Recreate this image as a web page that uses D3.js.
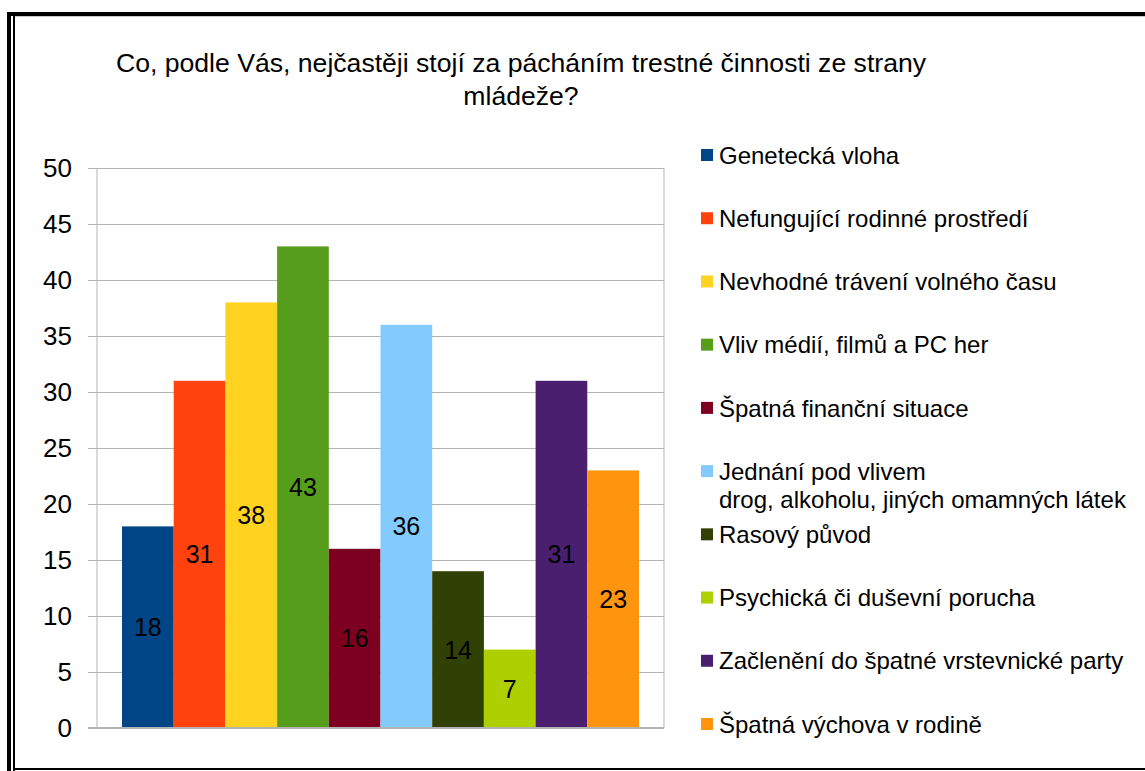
<!DOCTYPE html>
<html>
<head>
<meta charset="utf-8">
<script src="https://cdn.jsdelivr.net/npm/d3@7"></script>
<style>
html,body{margin:0;padding:0;background:#fff;}
svg{display:block;font-family:"Liberation Sans",Arial,sans-serif;}
</style>
</head>
<body>
<svg id="chart" width="1145" height="771"></svg>
<script>
const titleLines = ["Co, podle Vás, nejčastěji stojí za pácháním trestné činnosti ze strany", "mládeže?"];
const categories = [
  "Genetecká vloha",
  "Nefungující rodinné prostředí",
  "Nevhodné trávení volného času",
  "Vliv médií, filmů a PC her",
  "Špatná finanční situace",
  "Jednání pod vlivem\ndrog, alkoholu, jiných omamných látek",
  "Rasový původ",
  "Psychická či duševní porucha",
  "Začlenění do špatné vrstevnické party",
  "Špatná výchova v rodině"
];
const values = [18, 31, 38, 43, 16, 36, 14, 7, 31, 23];
const colors = ["#004586","#ff420e","#ffd320","#579d1c","#7e0021","#83caff","#314004","#aecf00","#4b1f6f","#ff950e"];
const yTicks = [0, 5, 10, 15, 20, 25, 30, 35, 40, 45, 50];

const svg = d3.select("#chart");

// frame
svg.append("rect").attr("x",7).attr("y",12).attr("width",1145).attr("height",4).attr("fill","#000");
svg.append("rect").attr("x",7).attr("y",12).attr("width",4).attr("height",759).attr("fill","#000");
svg.append("rect").attr("x",13).attr("y",16).attr("width",2).attr("height",755).attr("fill","#000");
svg.append("rect").attr("x",13).attr("y",768).attr("width",1135).attr("height",2).attr("fill","#000");
svg.append("rect").attr("x",15).attr("y",16).attr("width",1130).attr("height",1).attr("fill","#c8c8c8");

// title
svg.append("text").attr("x",521).attr("y",72).attr("text-anchor","middle")
  .attr("font-size",26.6).attr("fill","#000")
  .selectAll("tspan").data(titleLines).join("tspan")
  .attr("x",521).attr("dy",(d,i)=> i===0?0:33).text(d=>d);

const plot = {left:97, right:664, top:168, bottom:728};
const y = d3.scaleLinear().domain([0,50]).range([plot.bottom, plot.top]);
const x = d3.scaleBand().domain(categories).range([plot.left+25, plot.right-25]).paddingInner(0).paddingOuter(0);

// gridlines + ticks
const yAxis = d3.axisLeft(y).tickValues(yTicks).tickSize(-(plot.right-plot.left)).tickPadding(16);
const gAxis = svg.append("g").attr("transform",`translate(${plot.left},0)`).call(yAxis);
gAxis.select(".domain").remove();
gAxis.selectAll(".tick line").attr("stroke","#b3b3b3").attr("x1",-9);
gAxis.selectAll(".tick text").attr("font-size",26).attr("fill","#000")
  .attr("font-family","Liberation Sans, Arial, sans-serif").attr("x",-25);

// plot borders
svg.append("line").attr("x1",plot.left).attr("x2",plot.left).attr("y1",plot.top).attr("y2",plot.bottom).attr("stroke","#b3b3b3");
svg.append("line").attr("x1",plot.right).attr("x2",plot.right).attr("y1",plot.top).attr("y2",plot.bottom).attr("stroke","#b3b3b3");

// bars
svg.append("g").selectAll("rect").data(values).join("rect")
  .attr("x",(d,i)=>x(categories[i]))
  .attr("y",d=>y(d))
  .attr("width",x.bandwidth())
  .attr("height",d=>y(0)-y(d))
  .attr("fill",(d,i)=>colors[i]);

// bottom axis line
svg.append("line").attr("x1",plot.left-9).attr("x2",plot.right).attr("y1",plot.bottom).attr("y2",plot.bottom).attr("stroke","#b3b3b3").attr("stroke-width",2);

// data labels
svg.append("g").selectAll("text").data(values).join("text")
  .attr("x",(d,i)=>x(categories[i])+x.bandwidth()/2)
  .attr("y",d=>(y(d)+y(0))/2)
  .attr("dy","0.36em")
  .attr("text-anchor","middle")
  .attr("font-size",25).attr("fill","#000")
  .text(d=>d);

// legend
const legY = d3.scaleLinear().domain([0,9]).range([155,724]);
const leg = svg.append("g").selectAll("g").data(categories).join("g")
  .attr("transform",(d,i)=>`translate(701,${legY(i)})`);
leg.append("rect").attr("x",0).attr("y",-6).attr("width",12).attr("height",12).attr("fill",(d,i)=>colors[i]);
leg.append("text").attr("x",18).attr("y",0).attr("font-size",24).attr("fill","#000")
  .selectAll("tspan").data(d=>d.split("\n")).join("tspan")
  .attr("x",18).attr("dy",(d,i)=> i===0?"0.36em":"28").text(d=>d);
</script>
</body>
</html>
